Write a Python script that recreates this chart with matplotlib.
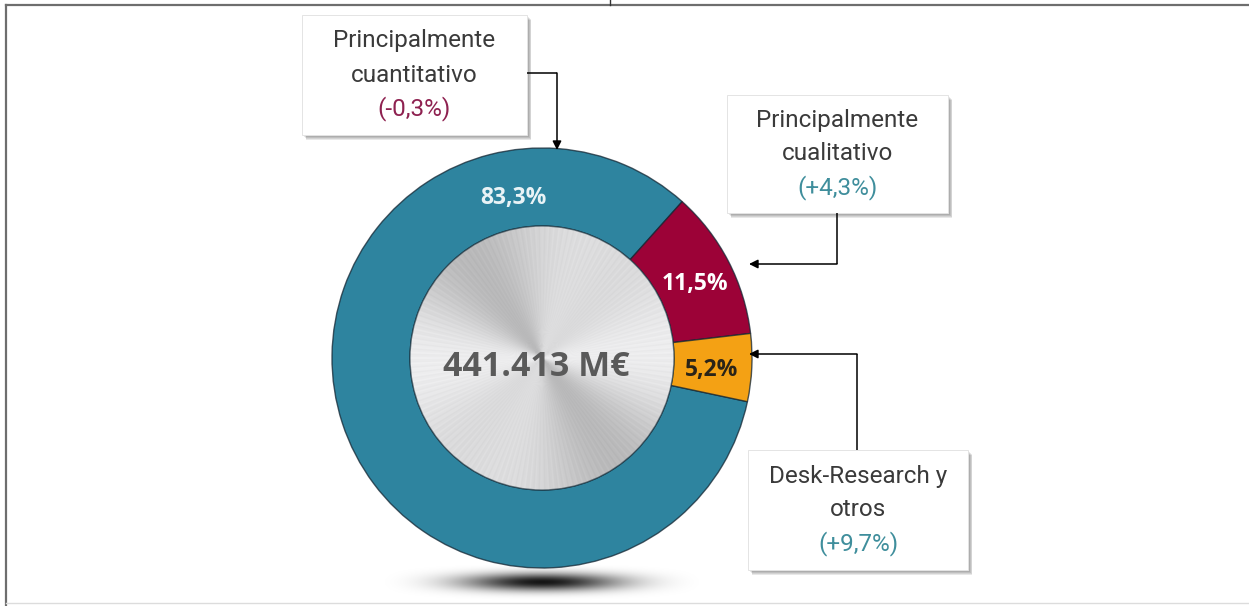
import numpy as np
import matplotlib
matplotlib.use("Agg")
import matplotlib.pyplot as plt
from matplotlib.patches import Rectangle, Circle

# ---------------- data ----------------
categories = ["Principalmente cuantitativo", "Principalmente cualitativo", "Desk-Research y otros"]
shares = [83.3, 11.5, 5.2]
share_labels = ["83,3%", "11,5%", "5,2%"]
box_titles = [["Principalmente", "cuantitativo"],
              ["Principalmente", "cualitativo"],
              ["Desk-Research y", "otros"]]
changes = ["(-0,3%)", "(+4,3%)", "(+9,7%)"]
total_label = "441.413 M€"

# ---------------- style ----------------
colors = ["#2e849f", "#9c0237", "#f4a114"]
label_colors = ["#e9f3f6", "#ffffff", "#2a2418"]
change_colors = ["#8e2150", "#3f8e9c", "#3f8e9c"]
text_color = "#3a3a3a"

W, H = 1249, 606
fig = plt.figure(figsize=(W / 100, H / 100), dpi=100)
fig.patch.set_facecolor("white")
ax = fig.add_axes([0, 0, 1, 1])


def Y(y):
    return H - y


cx, cy = 542, Y(358)
R_out, R_in = 210, 132

# shadow under the donut (soft ellipse, fades to zero at the image edges)
gx = np.linspace(-1, 1, 320)
gy = np.linspace(-1, 1, 100)
GX, GY = np.meshgrid(gx, gy)
alpha = 0.92 * np.exp(-(GX ** 2 / 0.30 + GY ** 2 / 0.28)) * (1 - GX ** 2) * (1 - GY ** 2)
alpha = np.clip(alpha, 0, 1)
shadow = np.zeros((100, 320, 4))
shadow[..., 3] = alpha
ax.imshow(shadow, extent=(cx - 165, cx + 165, Y(601), Y(563)), origin="lower",
          zorder=1, interpolation="bilinear")

# donut
wedges, _ = ax.pie(shares, colors=colors, startangle=-12, counterclock=False,
                   radius=R_out, center=(cx, cy),
                   wedgeprops=dict(width=R_out - R_in, edgecolor=(0.08, 0.15, 0.2, 0.75),
                                   linewidth=1.0, zorder=2),
                   frame=False)

# brushed-metal centre disc
N = 500
u = np.linspace(-1, 1, N)
U, V = np.meshgrid(u, u)
phi = np.arctan2(V, U)
val = (0.84 + 0.075 * np.cos(2 * phi - 0.9) + 0.045 * np.cos(4 * phi + 0.4)
       + 0.012 * np.cos(140 * phi) + 0.008 * np.cos(310 * phi))
val = np.clip(val, 0, 1)
rgb = np.dstack([val, val, val * 1.005]).clip(0, 1)
im = ax.imshow(rgb, extent=(cx - R_in, cx + R_in, cy - R_in, cy + R_in), origin="lower",
               zorder=3, interpolation="bilinear")
im.set_clip_path(Circle((cx, cy), R_in, transform=ax.transData))
ax.add_patch(Circle((cx, cy), R_in, facecolor="none", edgecolor=(0.1, 0.2, 0.25, 0.6),
                    linewidth=1.0, zorder=4))

ax.text(cx - 6, cy - 9, total_label, ha="center", va="center", fontsize=24.5,
        fontweight="bold", family=["Open Sans", "DejaVu Sans"], color="#5a5a5a", zorder=5)

# percentage labels on the ring
label_angles = [100, None, None]
label_radii = [162, 170, 170]
for w, lab, col, ang, rl in zip(wedges, share_labels, label_colors, label_angles, label_radii):
    a = ang if ang is not None else (w.theta1 + w.theta2) / 2 - 1.5
    x = cx + rl * np.cos(np.radians(a))
    y = cy + rl * np.sin(np.radians(a))
    ax.text(x, y, lab, ha="center", va="center", fontsize=16.5, fontweight="bold",
            family=["Open Sans", "DejaVu Sans"], color=col, zorder=5)

# text boxes (x, y_top, w, h) in pixels
boxes = [(302, 15, 225, 120), (727, 95, 221, 118), (748, 450, 220, 120)]
line_gap = 34
for (bx, by, bw, bh), title, chg, ccol in zip(boxes, box_titles, changes, change_colors):
    for d in range(1, 6):
        ax.add_patch(Rectangle((bx + d * 0.9, Y(by + bh + d * 0.9)), bw, bh,
                               facecolor="black", edgecolor="none", alpha=0.09, zorder=6))
    ax.add_patch(Rectangle((bx, Y(by + bh)), bw, bh, facecolor="white",
                           edgecolor="#e4e4e4", linewidth=0.7, zorder=7))
    mx = bx + bw / 2
    my = by + bh / 2
    lines = title + [chg]
    cols = [text_color, text_color, ccol]
    for i, (ln, c) in enumerate(zip(lines, cols)):
        ax.text(mx, Y(my + (i - 1) * line_gap), ln, ha="center", va="center",
                fontsize=17.5, family=["Roboto", "DejaVu Sans"], color=c, zorder=8)

# connector arrows (pixel paths)
arrow_paths = [
    [(527, 73), (557, 73), (557, 150)],
    [(837, 213), (837, 264), (749, 264)],
    [(857, 450), (857, 354), (749, 354)],
]
for path in arrow_paths:
    xs = [p[0] for p in path[:-1]]
    ys = [Y(p[1]) for p in path[:-1]]
    ax.plot(xs, ys, color="black", lw=1.1, zorder=9, solid_capstyle="butt")
    ax.annotate("", xy=(path[-1][0], Y(path[-1][1])), xytext=(path[-2][0], Y(path[-2][1])),
                arrowprops=dict(arrowstyle="-|>", color="black", lw=1.1,
                                mutation_scale=13, shrinkA=0, shrinkB=0), zorder=9)

# frame lines
ax.plot([6, W], [Y(5), Y(5)], color="#6e6e6e", lw=1.6, zorder=10)
ax.plot([6, 6], [Y(5), 0], color="#6e6e6e", lw=1.6, zorder=10)
ax.plot([6, W], [Y(603), Y(603)], color="#dcdcdc", lw=1.0, zorder=10)
ax.plot([610, 610], [H, Y(5)], color="#333333", lw=1.0, zorder=10)

ax.set_xlim(0, W)
ax.set_ylim(0, H)
ax.set_aspect("auto")
ax.axis("off")
fig.savefig("out.png", dpi=100, facecolor="white")
